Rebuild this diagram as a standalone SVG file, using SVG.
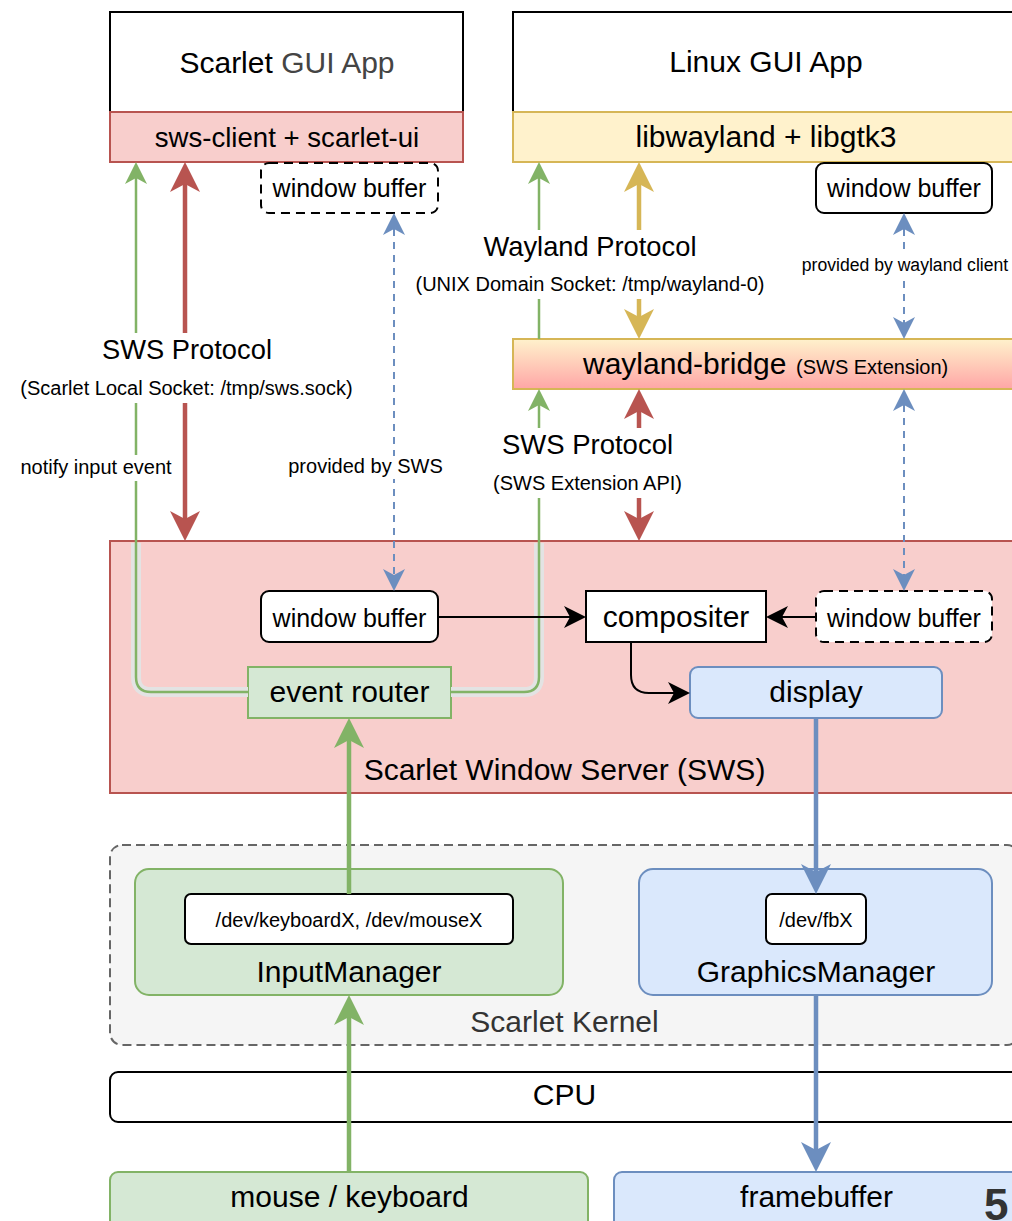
<svg xmlns="http://www.w3.org/2000/svg" width="1012" height="1221" viewBox="0 0 1012 1221">
<style>
text{font-family:"Liberation Sans",Arial,sans-serif;fill:#000;text-anchor:middle}
.t30{font-size:30px}.t25{font-size:25px}.t20{font-size:20px}
.box{fill:#fff;stroke:#000;stroke-width:2}
.red{fill:#f8cecc;stroke:#b85450;stroke-width:2}
.yel{fill:#fff2cc;stroke:#d6b656;stroke-width:2}
.grn{fill:#d5e8d4;stroke:#82b366;stroke-width:2}
.blu{fill:#dae8fc;stroke:#6c8ebf;stroke-width:2}
.dsh{fill:#fff;stroke:#000;stroke-width:2;stroke-dasharray:9 6}
.ln{fill:none}
.lbg{fill:#fff}
</style>
<defs>
<linearGradient id="gBridge" x1="0" y1="0" x2="0" y2="1">
<stop offset="0" stop-color="#fff2cc"/><stop offset="1" stop-color="#ffa6a6"/>
</linearGradient>
<marker id="LRed" markerUnits="userSpaceOnUse" markerWidth="32" markerHeight="32" viewBox="0 0 32 32" refX="8" refY="15" orient="auto-start-reverse"><path d="M0,0 L30,15 L0,30 L8,15 Z" fill="#b85450"/></marker>
<marker id="LYel" markerUnits="userSpaceOnUse" markerWidth="32" markerHeight="32" viewBox="0 0 32 32" refX="8" refY="15" orient="auto-start-reverse"><path d="M0,0 L30,15 L0,30 L8,15 Z" fill="#d6b656"/></marker>
<marker id="LGrn" markerUnits="userSpaceOnUse" markerWidth="32" markerHeight="32" viewBox="0 0 32 32" refX="8" refY="15" orient="auto-start-reverse"><path d="M0,0 L30,15 L0,30 L8,15 Z" fill="#82b366"/></marker>
<marker id="LBlu" markerUnits="userSpaceOnUse" markerWidth="32" markerHeight="32" viewBox="0 0 32 32" refX="8" refY="15" orient="auto-start-reverse"><path d="M0,0 L30,15 L0,30 L8,15 Z" fill="#6c8ebf"/></marker>
<marker id="SGrn" markerUnits="userSpaceOnUse" markerWidth="24" markerHeight="24" viewBox="0 0 24 24" refX="6" refY="11" orient="auto-start-reverse"><path d="M0,0 L22,11 L0,22 L6,11 Z" fill="#82b366"/></marker>
<marker id="SBlu" markerUnits="userSpaceOnUse" markerWidth="24" markerHeight="24" viewBox="0 0 24 24" refX="6" refY="11" orient="auto-start-reverse"><path d="M0,0 L22,11 L0,22 L6,11 Z" fill="#6c8ebf"/></marker>
<marker id="SBlk" markerUnits="userSpaceOnUse" markerWidth="24" markerHeight="24" viewBox="0 0 24 24" refX="6" refY="11" orient="auto-start-reverse"><path d="M0,0 L22,11 L0,22 L6,11 Z" fill="#000"/></marker>
</defs>
<rect width="1012" height="1221" fill="#fff"/>

<g id="sws">
<rect x="110" y="541" width="909" height="252" class="red"/>
<text x="564.5" y="780" class="t30">Scarlet Window Server (SWS)</text>
</g>
<g id="kernel">
<rect x="110" y="845" width="909" height="200" rx="12" fill="#f5f5f5" stroke="#666" stroke-width="2" stroke-dasharray="9 5"/>
<text x="564.5" y="1032" class="t30" style="fill:#333">Scarlet Kernel</text>
</g>
<g id="cpu">
<rect x="110" y="1072" width="909" height="50" rx="8" class="box"/>
<text x="564.5" y="1105" class="t30">CPU</text>
</g>

<g id="scarlet-app">
<rect x="110" y="12" width="353" height="100" class="box"/>
<text x="287" y="72.5" class="t30">Scarlet <tspan style="fill:#444">GUI App</tspan></text>
</g>
<g id="sws-client">
<rect x="110" y="112" width="353" height="50" class="red"/>
<text x="287" y="147" style="font-size:27.6px">sws-client + scarlet-ui</text>
</g>
<g id="linux-app">
<rect x="513" y="12" width="506" height="100" class="box"/>
<text x="766" y="72" class="t30">Linux GUI App</text>
</g>
<g id="libwayland">
<rect x="513" y="112" width="506" height="50" class="yel"/>
<text x="766" y="147" class="t30">libwayland + libgtk3</text>
</g>
<g id="wb-scarlet">
<rect x="261" y="163" width="177" height="50" rx="8" class="dsh"/>
<text x="349.5" y="197" class="t25">window buffer</text>
</g>
<g id="wb-linux">
<rect x="816" y="163" width="176" height="50" rx="8" class="box"/>
<text x="904" y="197" class="t25">window buffer</text>
</g>
<g id="wayland-bridge">
<rect x="513" y="339" width="506" height="50" fill="url(#gBridge)" stroke="#d6b656" stroke-width="2"/>
<text style="text-anchor:start"><tspan x="583" y="374" style="font-size:30px">wayland-bridge</tspan><tspan x="796" y="374" style="font-size:20px">(SWS Extension)</tspan></text>
</g>
<g id="wb-sws">
<rect x="261" y="591" width="177" height="51" rx="8" class="box"/>
<text x="349.5" y="627" class="t25">window buffer</text>
</g>
<g id="compositer">
<rect x="586" y="591" width="180" height="51" class="box"/>
<text x="676" y="627" class="t30">compositer</text>
</g>
<g id="wb-bridge">
<rect x="816" y="591" width="176" height="51" rx="8" class="dsh"/>
<text x="904" y="627" class="t25">window buffer</text>
</g>
<g id="display">
<rect x="690" y="667" width="252" height="51" rx="8" class="blu"/>
<text x="816" y="702" class="t30">display</text>
</g>
<g id="event-router">
<rect x="248" y="667" width="203" height="51" class="grn"/>
<text x="349.5" y="702" class="t30">event router</text>
</g>

<g id="input-manager">
<rect x="135" y="869" width="428" height="126" rx="14" class="grn"/>
<text x="349" y="982" class="t30">InputManager</text>
</g>
<g id="dev-input">
<rect x="185" y="894" width="328" height="50" rx="6" class="box"/>
<text x="349" y="927" class="t20">/dev/keyboardX, /dev/mouseX</text>
</g>
<g id="graphics-manager">
<rect x="639" y="869" width="353" height="126" rx="14" class="blu"/>
<text x="816" y="982" class="t30">GraphicsManager</text>
</g>
<g id="dev-fb">
<rect x="766" y="894" width="100" height="50" rx="6" class="box"/>
<text x="816" y="927" class="t20">/dev/fbX</text>
</g>
<g id="mouse-keyboard">
<rect x="110" y="1172" width="478" height="70" rx="8" class="grn"/>
<text x="349.5" y="1207" class="t30">mouse / keyboard</text>
</g>
<g id="framebuffer">
<rect x="614" y="1172" width="405" height="70" rx="8" class="blu"/>
<text x="816.5" y="1207" class="t30">framebuffer</text>
</g>

<g id="connectors">
<path class="ln" d="M248,692 H151 Q136,692 136,677 V543" stroke="#e3e3e3" stroke-width="10"/>
<path class="ln" d="M451,692 H524 Q539,692 539,677 V543" stroke="#e3e3e3" stroke-width="10"/>
<path class="ln" d="M248,692 H151 Q136,692 136,677 V178" stroke="#82b366" stroke-width="2.5" marker-end="url(#SGrn)"/>
<path class="ln" d="M451,692 H524 Q539,692 539,677 V405" stroke="#82b366" stroke-width="2.5" marker-end="url(#SGrn)"/>
<path class="ln" d="M539,339 V178" stroke="#82b366" stroke-width="2.5" marker-end="url(#SGrn)"/>
<path class="ln" d="M185,184 V519" stroke="#b85450" stroke-width="4.5" marker-start="url(#LRed)" marker-end="url(#LRed)"/>
<path class="ln" d="M639,184 V317" stroke="#d6b656" stroke-width="4.5" marker-start="url(#LYel)" marker-end="url(#LYel)"/>
<path class="ln" d="M639,411 V519" stroke="#b85450" stroke-width="4.5" marker-start="url(#LRed)" marker-end="url(#LRed)"/>
<path class="ln" d="M394,229 V575" stroke="#6c8ebf" stroke-width="2" stroke-dasharray="7 6" marker-start="url(#SBlu)" marker-end="url(#SBlu)"/>
<path class="ln" d="M904,229 V323" stroke="#6c8ebf" stroke-width="2" stroke-dasharray="7 6" marker-start="url(#SBlu)" marker-end="url(#SBlu)"/>
<path class="ln" d="M904,405 V575" stroke="#6c8ebf" stroke-width="2" stroke-dasharray="7 6" marker-start="url(#SBlu)" marker-end="url(#SBlu)"/>
<path class="ln" d="M438,617 H570" stroke="#000" stroke-width="2" marker-end="url(#SBlk)"/>
<path class="ln" d="M816,617 H782" stroke="#000" stroke-width="2" marker-end="url(#SBlk)"/>
<path class="ln" d="M631,642 V675 Q631,693 649,693 H674" stroke="#000" stroke-width="2" marker-end="url(#SBlk)"/>
<path class="ln" d="M349,1172 V1017" stroke="#82b366" stroke-width="4.5" marker-end="url(#LGrn)"/>
<path class="ln" d="M349,894 V740" stroke="#82b366" stroke-width="4.5" marker-end="url(#LGrn)"/>
<path class="ln" d="M816,718 V872" stroke="#6c8ebf" stroke-width="4.5" marker-end="url(#LBlu)"/>
<path class="ln" d="M816,995 V1150" stroke="#6c8ebf" stroke-width="4.5" marker-end="url(#LBlu)"/>

<rect class="lbg" x="18" y="333" width="337" height="70"/>
<text x="187" y="359" style="font-size:27.3px">SWS Protocol</text>
<text x="186.5" y="395" class="t20">(Scarlet Local Socket: /tmp/sws.sock)</text>
<rect class="lbg" x="18" y="455" width="156" height="26"/>
<text x="96" y="474" class="t20">notify input event</text>
<rect class="lbg" x="286" y="456" width="159" height="23"/>
<text x="365.5" y="473" class="t20">provided by SWS</text>
<rect class="lbg" x="413" y="230" width="354" height="69"/>
<text x="590" y="256" style="font-size:27.3px">Wayland Protocol</text>
<text x="590" y="291" class="t20">(UNIX Domain Socket: /tmp/wayland-0)</text>
<rect class="lbg" x="800" y="252" width="212" height="26"/>
<text x="905" y="271" style="font-size:17.6px">provided by wayland client</text>
<rect class="lbg" x="490" y="428" width="195" height="70"/>
<text x="587.5" y="454" style="font-size:27.5px">SWS Protocol</text>
<text x="587.5" y="490" class="t20">(SWS Extension API)</text>
</g>

<text x="984" y="1220" style="font-size:44px;font-weight:bold;fill:#333;text-anchor:start">5</text>
</svg>
